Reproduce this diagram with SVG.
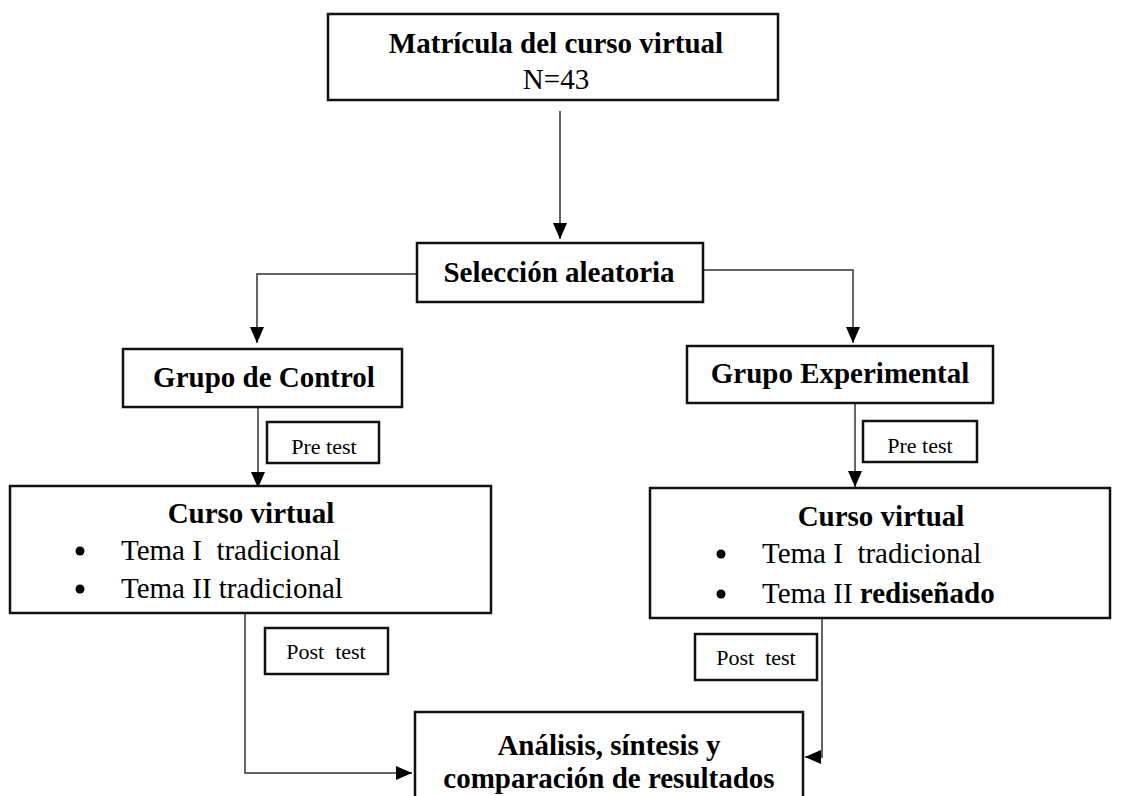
<svg xmlns="http://www.w3.org/2000/svg" width="1124" height="796" viewBox="0 0 1124 796">
<defs>
<style>
.box{fill:#fff;stroke:#111;stroke-width:2.5}
.sbox{fill:#fff;stroke:#111;stroke-width:2.5}
.con{fill:none;stroke:#333;stroke-width:1.5}
.b{font-family:"Liberation Serif",serif;font-weight:bold;font-size:29px;fill:#000}
.r{font-family:"Liberation Serif",serif;font-size:29px;fill:#000}
.s{font-family:"Liberation Serif",serif;font-size:22px;fill:#000}
.m{text-anchor:middle}
</style>
<marker id="ah" markerUnits="userSpaceOnUse" markerWidth="16" markerHeight="14" refX="16" refY="7" orient="auto">
<path d="M0,0 L16,7 L0,14 Z" fill="#000"/>
</marker>
</defs>
<rect width="1124" height="796" fill="#fff"/>
<g id="connectors">
<path class="con" d="M560,111 V239" marker-end="url(#ah)"/>
<path class="con" d="M417,274 H257 V343" marker-end="url(#ah)"/>
<path class="con" d="M703,270 H853 V343" marker-end="url(#ah)"/>
<path class="con" d="M258,407 V488" marker-end="url(#ah)"/>
<path class="con" d="M855,403 V487" marker-end="url(#ah)"/>
<path class="con" d="M245,613 V773 H412" marker-end="url(#ah)"/>
<path class="con" d="M822,618 V757 H805" marker-end="url(#ah)"/>
</g>
<g id="n-matricula">
<rect class="box" x="328" y="14" width="450" height="86"/>
<text class="b m" x="556" y="53">Matrícula del curso virtual</text>
<text class="r m" x="556" y="89">N=43</text>
</g>
<g id="n-seleccion">
<rect class="box" x="417" y="243" width="286" height="59"/>
<text class="b m" x="559" y="282">Selección aleatoria</text>
</g>
<g id="n-control">
<rect class="box" x="123" y="349" width="279" height="58"/>
<text class="b m" x="264" y="387">Grupo de Control</text>
</g>
<g id="n-experimental">
<rect class="box" x="687" y="346" width="306" height="57"/>
<text class="b m" x="840" y="383">Grupo Experimental</text>
</g>
<g id="n-pretest-l">
<rect class="sbox" x="267" y="422" width="112" height="41"/>
<text class="s m" x="324" y="454">Pre test</text>
</g>
<g id="n-pretest-r">
<rect class="sbox" x="863" y="421" width="114" height="41"/>
<text class="s m" x="920" y="453">Pre test</text>
</g>
<g id="n-curso-l">
<rect class="box" x="10" y="486" width="481" height="127"/>
<text class="b m" x="251" y="523">Curso virtual</text>
<circle cx="80" cy="551" r="4.5" fill="#000"/>
<text class="r" x="121" y="560" xml:space="preserve">Tema I  tradicional</text>
<circle cx="80" cy="589" r="4.5" fill="#000"/>
<text class="r" x="121" y="598">Tema II tradicional</text>
</g>
<g id="n-curso-r">
<rect class="box" x="650" y="488" width="460" height="130"/>
<text class="b m" x="881" y="526">Curso virtual</text>
<circle cx="721" cy="554" r="4.5" fill="#000"/>
<text class="r" x="762" y="563" xml:space="preserve">Tema I  tradicional</text>
<circle cx="721" cy="594" r="4.5" fill="#000"/>
<text class="r" x="762" y="603">Tema II <tspan font-weight="bold">rediseñado</tspan></text>
</g>
<g id="n-posttest-l">
<rect class="sbox" x="265" y="628" width="123" height="46"/>
<text class="s m" x="326" y="659" xml:space="preserve">Post  test</text>
</g>
<g id="n-posttest-r">
<rect class="sbox" x="695" y="634" width="122" height="46"/>
<text class="s m" x="756" y="665" xml:space="preserve">Post  test</text>
</g>
<g id="n-analisis">
<rect class="box" x="415" y="712" width="388" height="96"/>
<text class="b m" x="609" y="755">Análisis, síntesis y</text>
<text class="b m" x="609" y="788">comparación de resultados</text>
</g>
</svg>
